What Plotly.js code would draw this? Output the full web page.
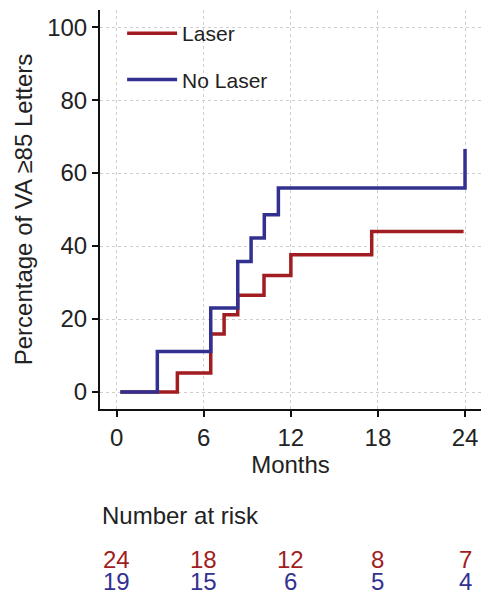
<!DOCTYPE html>
<html>
<head>
<meta charset="utf-8">
<script src="https://cdn.plot.ly/plotly-3.0.1.min.js"></script>
<style>html,body{margin:0;padding:0;background:#fff;}#chart{width:481px;height:594px;}</style>
</head>
<body>
<div id="chart"></div>
<script>
// Step data (months, cumulative percentage)
var laserMonths = [0.25, 4.18, 6.48, 7.40, 8.34, 10.15, 12.0, 17.57, 23.9];
var laserPct    = [0, 5.2, 15.9, 21.2, 26.5, 31.9, 37.6, 44.0, 44.0];
var noLaserMonths = [0.25, 2.8, 6.48, 8.34, 9.26, 10.17, 11.14, 24, 24];
var noLaserPct    = [0, 11.1, 23.0, 35.8, 42.2, 48.6, 55.9, 55.9, 66.6];

var riskMonths = [0, 6, 12, 18, 24];
var riskLaser = [24, 18, 12, 8, 7];
var riskNoLaser = [19, 15, 6, 5, 4];

var xTicks = [0, 6, 12, 18, 24];
var yTicks = [0, 20, 40, 60, 80, 100];

var RED = '#a11d21', BLUE = '#33318f';
var FONT = 'Liberation Sans, Arial, sans-serif';

var traces = [
  {x: laserMonths, y: laserPct, name: 'Laser', mode: 'lines', line: {shape: 'hv', color: RED, width: 3.5}, legendgroup: 'a'},
  {x: noLaserMonths, y: noLaserPct, name: 'No Laser', mode: 'lines', line: {shape: 'hv', color: BLUE, width: 3.5}, legendgroup: 'b'}
];

var annotations = [{
  text: 'Number at risk', xref: 'paper', yref: 'paper', x: 0.0, y: -0.266,
  xanchor: 'left', yanchor: 'middle', showarrow: false, font: {family: FONT, size: 24, color: '#222'}
}];
riskMonths.forEach(function (m, i) {
  annotations.push({text: String(riskLaser[i]), xref: 'x', yref: 'paper', x: m, y: -0.378,
    xanchor: 'center', yanchor: 'middle', showarrow: false, font: {family: FONT, size: 24, color: RED}});
  annotations.push({text: String(riskNoLaser[i]), xref: 'x', yref: 'paper', x: m, y: -0.433,
    xanchor: 'center', yanchor: 'middle', showarrow: false, font: {family: FONT, size: 24, color: BLUE}});
});

var layout = {
  width: 481, height: 594,
  margin: {l: 100, r: 0, t: 10, b: 185},
  paper_bgcolor: '#fff', plot_bgcolor: '#fff',
  font: {family: FONT, color: '#222', size: 24},
  showlegend: true,
  legend: {x: 0.058, y: 0.9925, xanchor: 'left', yanchor: 'top', bgcolor: 'rgba(0,0,0,0)',
    font: {family: FONT, size: 21, color: '#222'}, tracegroupgap: 16, traceorder: 'grouped', itemwidth: 50},
  xaxis: {
    range: [-1.15, 25.1], tickvals: xTicks, ticktext: xTicks.map(String),
    showline: true, linecolor: '#111', linewidth: 2, ticks: 'outside', ticklen: 6, tickwidth: 2, tickcolor: '#111',
    showgrid: true, gridcolor: '#cfcfcf', griddash: 'dot', gridwidth: 1, zeroline: false,
    tickfont: {family: FONT, size: 24, color: '#222'},
    title: {text: 'Months', font: {family: FONT, size: 24, color: '#222'}, standoff: 4}
  },
  yaxis: {
    range: [-4.66, 104.7], tickvals: yTicks, ticktext: yTicks.map(String),
    showline: true, linecolor: '#111', linewidth: 2, ticks: 'outside', ticklen: 6, tickwidth: 2, tickcolor: '#111',
    showgrid: true, gridcolor: '#cfcfcf', griddash: 'dot', gridwidth: 1, zeroline: false,
    tickfont: {family: FONT, size: 24, color: '#222'},
    title: {text: 'Percentage of VA \u226585 Letters', font: {family: FONT, size: 24, color: '#222'}, standoff: 8}
  },
  annotations: annotations
};

Plotly.newPlot('chart', traces, layout, {staticPlot: true, displayModeBar: false});
</script>
</body>
</html>
